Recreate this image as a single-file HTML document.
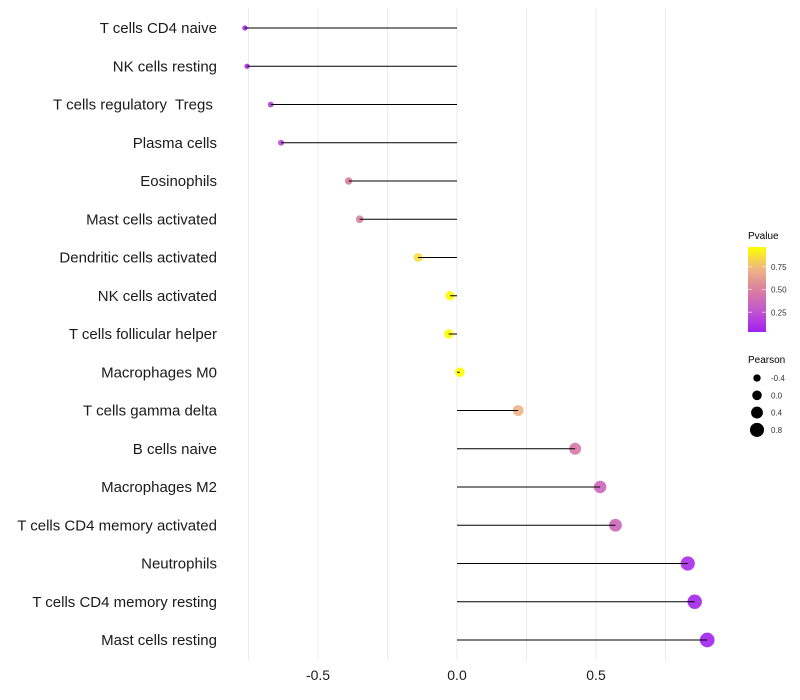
<!DOCTYPE html>
<html><head><meta charset="utf-8">
<style>
body{margin:0;background:#fff;}
svg{display:block;font-family:"Liberation Sans",sans-serif;}
#ylabels text{white-space:pre;}
</style></head>
<body>
<svg id="chart" width="800" height="700" viewBox="0 0 800 700" xmlns="http://www.w3.org/2000/svg">
<defs>
<linearGradient id="pgrad" x1="0" y1="1" x2="0" y2="0">
<stop offset="0" stop-color="#A020F0"/>
<stop offset="0.25" stop-color="#C255D0"/>
<stop offset="0.5" stop-color="#DC80A0"/>
<stop offset="0.75" stop-color="#F0B880"/>
<stop offset="1" stop-color="#FFFF00"/>
</linearGradient>
</defs>
<g id="grid"></g>
<g id="points"></g>
<g id="stems"></g>
<g id="ylabels"></g>
<g id="xlabels"></g>
<g>
<text x="748" y="239" font-size="10">Pvalue</text>
<rect x="748" y="247" width="18" height="85" fill="url(#pgrad)"/>
<g id="cbticks"></g>
</g>
<g>
<text x="748" y="363" font-size="10">Pearson</text>
<g id="sizeleg"></g>
</g>
</svg>
<script>
const categories=["T cells CD4 naive","NK cells resting","T cells regulatory  Tregs ","Plasma cells","Eosinophils","Mast cells activated","Dendritic cells activated","NK cells activated","T cells follicular helper","Macrophages M0","T cells gamma delta","B cells naive","Macrophages M2","T cells CD4 memory activated","Neutrophils","T cells CD4 memory resting","Mast cells resting"];
const pearson=[-0.763,-0.755,-0.67,-0.633,-0.39,-0.35,-0.14,-0.025,-0.03,0.01,0.22,0.425,0.515,0.57,0.83,0.855,0.9];
const pvalue=[0.05,0.06,0.15,0.2,0.5,0.5,0.88,0.99,0.99,1.0,0.72,0.45,0.35,0.35,0.05,0.03,0.01];
const xTicks=[-0.5,0,0.5];
const xTickLabels=["-0.5","0.0","0.5"];
const xMinor=[-0.75,-0.25,0.25,0.75];
const cbTicks=[0.25,0.5,0.75];
const sizeLegend=[-0.4,0,0.4,0.8];

const NS="http://www.w3.org/2000/svg";
const X=v=>457+v*278;
const Y=i=>28+i*38.25;
const R=v=>Math.max(2.3,4.8+2.8*v);
const stops=[[0,[160,32,240]],[0.25,[194,85,208]],[0.5,[220,128,160]],[0.75,[240,184,128]],[1,[255,255,0]]];
function col(p){for(let k=0;k<stops.length-1;k++){const a=stops[k],b=stops[k+1];if(p<=b[0]){const t=(p-a[0])/(b[0]-a[0]);return "rgb("+a[1].map((c,j)=>Math.round(c+(b[1][j]-c)*t)).join(",")+")";}}return "rgb(255,255,0)";}
function mk(tag,attrs,parent){const e=document.createElementNS(NS,tag);for(const k in attrs)e.setAttribute(k,attrs[k]);parent.appendChild(e);return e;}
const grid=document.getElementById('grid');
xTicks.concat(xMinor).forEach(v=>{const l=mk('line',{x1:X(v),x2:X(v),y1:8,y2:660,stroke:'#ebebeb','stroke-width':1},grid);

});
const pts=document.getElementById('points'),stems=document.getElementById('stems'),yl=document.getElementById('ylabels'),xl=document.getElementById('xlabels');
categories.forEach((c,i)=>{
const p=mk('circle',{cx:X(pearson[i]),cy:Y(i),r:R(pearson[i]),fill:col(pvalue[i]),'fill-opacity':0.9},pts);


const s=mk('line',{x1:X(0),x2:X(pearson[i]),y1:Y(i),y2:Y(i),stroke:'#000','stroke-width':1},stems);


const t=mk('text',{x:217,y:Y(i)+5,'text-anchor':'end','font-size':15,fill:'#1a1a1a'},yl);t.textContent=c;


});
xTicks.forEach((v,i)=>{const t=mk('text',{x:X(v),y:680,'text-anchor':'middle','font-size':14,fill:'#1a1a1a'},xl);t.textContent=xTickLabels[i];

});
const cb=document.getElementById('cbticks');
cbTicks.forEach(v=>{const y=335-v*91;
mk('line',{x1:748,x2:752,y1:y,y2:y,stroke:'#fff','stroke-opacity':0.6},cb);mk('line',{x1:762,x2:766,y1:y,y2:y,stroke:'#fff','stroke-opacity':0.6},cb);
const t=mk('text',{x:771,y:y+3,'font-size':8,fill:'#333'},cb);t.textContent=v.toFixed(2);

});
const sl=document.getElementById('sizeleg');
sizeLegend.forEach((v,i)=>{const y=378+i*17.3;
const c=mk('circle',{cx:757,cy:y,r:R(v)},sl);


const t=mk('text',{x:771,y:y+3,'font-size':8,fill:'#333'},sl);t.textContent=v.toFixed(1);

});
</script>
</body></html>
